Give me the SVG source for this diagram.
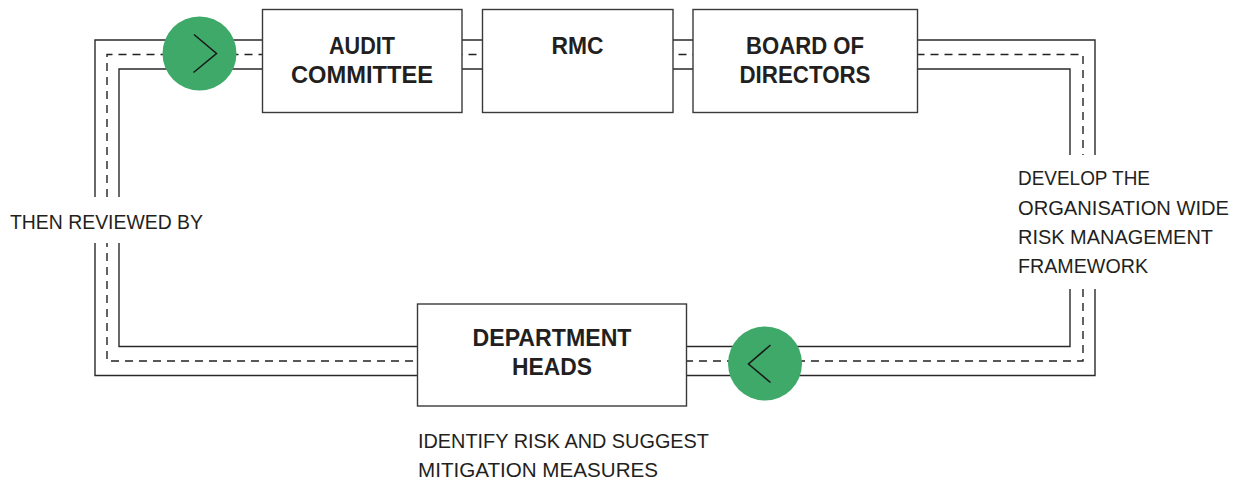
<svg xmlns="http://www.w3.org/2000/svg" width="1237" height="482" viewBox="0 0 1237 482">
<style>
.ln{fill:none;stroke:#2a2a2a;stroke-width:1.4}
.dash{fill:none;stroke:#222;stroke-width:1.4;stroke-dasharray:8 6}
.box{fill:#fff;stroke:#3a3a3a;stroke-width:1.4}
.bt{font-family:"Liberation Sans",Arial,sans-serif;font-weight:bold;font-size:23px;fill:#231f20;text-anchor:middle}
.lt{font-family:"Liberation Sans",Arial,sans-serif;font-size:20px;fill:#231f20}
.circ{fill:#3fa96a}
.chev{fill:none;stroke:#1a1a1a;stroke-width:1.6}
</style>
<rect width="1237" height="482" fill="#fff"/>
<g id="connectors">
<path class="ln" d="M95 197 V40 H1095 V155 M1095 289 V375.5 H95 V243"/>
<path class="ln" d="M119 197 V69 H1070 V155 M1070 289 V346.5 H119 V243"/>
<path class="dash" d="M107 197 V54.5 H1083 V155 M1083 289 V361 H107 V243"/>
</g>
<g id="audit-committee">
<rect class="box" x="262.5" y="9.5" width="199.5" height="103"/>
<text class="bt" x="362" y="54" textLength="66" lengthAdjust="spacingAndGlyphs">AUDIT</text>
<text class="bt" x="362" y="82.5" textLength="142" lengthAdjust="spacingAndGlyphs">COMMITTEE</text>
</g>
<g id="rmc">
<rect class="box" x="482.5" y="9.5" width="190.5" height="103"/>
<text class="bt" x="577.5" y="54" textLength="52" lengthAdjust="spacingAndGlyphs">RMC</text>
</g>
<g id="board-of-directors">
<rect class="box" x="693" y="9.5" width="224.5" height="103"/>
<text class="bt" x="805" y="54" textLength="118" lengthAdjust="spacingAndGlyphs">BOARD OF</text>
<text class="bt" x="805" y="82.5" textLength="131" lengthAdjust="spacingAndGlyphs">DIRECTORS</text>
</g>
<g id="department-heads">
<rect class="box" x="417.5" y="304" width="269" height="102"/>
<text class="bt" x="552" y="345.5" textLength="159" lengthAdjust="spacingAndGlyphs">DEPARTMENT</text>
<text class="bt" x="552" y="375" textLength="80" lengthAdjust="spacingAndGlyphs">HEADS</text>
</g>
<g id="arrow-top">
<circle class="circ" cx="199.5" cy="53.5" r="37"/>
<path class="chev" d="M194 34.5 L216.5 53.5 L193.5 72.5"/>
</g>
<g id="arrow-bottom">
<circle class="circ" cx="765" cy="363.5" r="37"/>
<path class="chev" d="M770.5 345 L748.5 364 L770.5 382.5"/>
</g>
<g id="label-left">
<text class="lt" x="10" y="229" textLength="193" lengthAdjust="spacingAndGlyphs">THEN REVIEWED BY</text>
</g>
<g id="label-right">
<text class="lt" x="1018" y="185" textLength="132" lengthAdjust="spacingAndGlyphs">DEVELOP THE</text>
<text class="lt" x="1018" y="214.5" textLength="211" lengthAdjust="spacingAndGlyphs">ORGANISATION WIDE</text>
<text class="lt" x="1018" y="244" textLength="195" lengthAdjust="spacingAndGlyphs">RISK MANAGEMENT</text>
<text class="lt" x="1018" y="273" textLength="130" lengthAdjust="spacingAndGlyphs">FRAMEWORK</text>
</g>
<g id="label-bottom">
<text class="lt" x="418" y="448" textLength="291" lengthAdjust="spacingAndGlyphs">IDENTIFY RISK AND SUGGEST</text>
<text class="lt" x="418" y="477" textLength="240" lengthAdjust="spacingAndGlyphs">MITIGATION MEASURES</text>
</g>
</svg>
